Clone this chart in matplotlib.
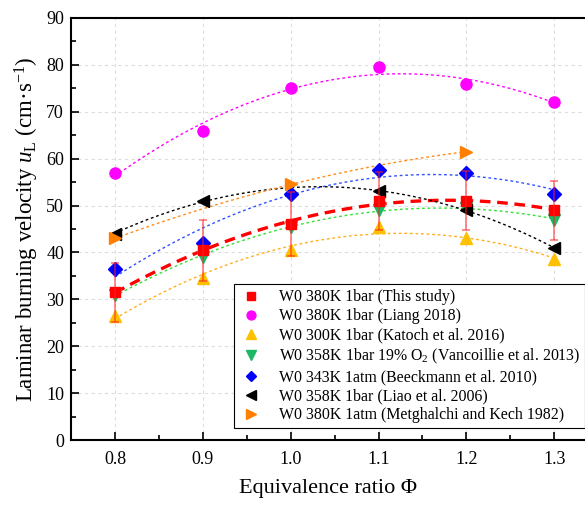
import numpy as np
import matplotlib
matplotlib.use("Agg")
import matplotlib.pyplot as plt
from matplotlib.ticker import MultipleLocator

plt.rcParams['font.family'] = ['Liberation Serif', 'DejaVu Serif']
plt.rcParams['mathtext.fontset'] = 'custom'
plt.rcParams['mathtext.rm'] = 'Liberation Serif'
plt.rcParams['mathtext.it'] = 'Liberation Serif:italic'

phi = [0.8, 0.9, 1.0, 1.1, 1.2, 1.3]

this_study = [31.5, 40.5, 46.0, 51.0, 51.0, 49.0]
this_err = [6.3, 6.5, 6.8, 6.2, 6.3, 6.3]
liang = [57.0, 66.0, 75.0, 79.5, 76.0, 72.0]
katoch = [26.5, 34.5, 40.5, 45.5, 43.0, 38.5]
vanco = [31.0, 39.0, 45.5, 49.0, 49.5, 47.0]
beeck = [36.5, 42.0, 52.5, 57.5, 57.0, 52.5]
liao_phi = [0.8, 0.9, 1.1, 1.2, 1.3]
liao = [44.0, 51.0, 53.0, 49.0, 41.0]
metg_phi = [0.8, 1.0, 1.2]
metg = [43.0, 54.5, 61.5]

labels = [
    'W0 380K 1bar (This study)',
    'W0 380K 1bar (Liang 2018)',
    'W0 300K 1bar (Katoch et al. 2016)',
    'W0 358K 1bar 19% O$_2$ (Vancoillie et al. 2013)',
    'W0 343K 1atm (Beeckmann et al. 2010)',
    'W0 358K 1bar (Liao et al. 2006)',
    'W0 380K 1atm (Metghalchi and Kech 1982)',
]

fig = plt.figure(figsize=(5.85, 5.05), dpi=100)
ax = fig.add_axes([0.1214, 0.1287, 0.8786, 0.8357])

def fit(x, y, color, lw=1.0, dash=(2, 2)):
    c = np.polyfit(x, y, 2)
    xx = np.linspace(min(x), max(x), 200)
    ax.plot(xx, np.polyval(c, xx), color=color, lw=lw, dashes=dash, zorder=2)

series = [
    (phi, liang, '#FF00FF', 'o', 8, '#FF00FF'),
    (phi, katoch, '#FFC000', '^', 9, '#FFB020'),
    (phi, vanco, '#1CB864', 'v', 9, '#33E033'),
    (phi, beeck, '#0000FF', 'D', 7, '#3050FF'),
    (liao_phi, liao, '#000000', '<', 9, '#000000'),
    (metg_phi, metg, '#FF8000', '>', 9, '#FF8C1A'),
]

# this study
fit(phi, this_study, '#FF0000', lw=2.4, dash=(3.2, 2.0))
handles = []
h = ax.plot(phi, this_study, ls='none', marker='s', ms=7, color='#FF0000',
            zorder=5, label=labels[0])[0]
handles.append(h)

for (x, y, mc, mk, ms, lc), lab in zip(series, labels[1:]):
    fit(x, y, lc)
    h = ax.plot(x, y, ls='none', marker=mk, ms=ms, color=mc, mec=mc,
                zorder=4, label=lab)[0]
    handles.append(h)

ax.errorbar(phi, this_study, yerr=this_err, fmt='none', ecolor='#FF2020',
            elinewidth=1.2, capsize=2.8, capthick=1.2, alpha=0.6, zorder=6)

ax.set_xlim(0.75, 1.335)
ax.set_ylim(0, 90)
ax.xaxis.set_minor_locator(MultipleLocator(0.05))
ax.yaxis.set_major_locator(MultipleLocator(10))
ax.yaxis.set_minor_locator(MultipleLocator(5))
ax.set_xticks(phi)
ax.set_xticklabels(['0.8', '0.9', '1.0', '1.1', '1.2', '1.3'])
ax.tick_params(which='major', direction='in', length=6, width=1.2, labelsize=13, pad=8)
ax.tick_params(which='minor', direction='in', length=3.5, width=1.2)
ax.tick_params(axis='y', pad=5)
ax.grid(True, which='major', color='#dddddd', ls=(0, (3, 3)), lw=0.8)
ax.set_axisbelow(True)
for s in ['left', 'bottom', 'top']:
    ax.spines[s].set_linewidth(1.5)
ax.spines['right'].set_visible(False)

ax.set_xlabel('Equivalence ratio Φ', fontsize=16, labelpad=8)
ax.set_ylabel('Laminar burning velocity $u_\\mathrm{L}$ (cm·s$^{-1}$)', fontsize=16.5, labelpad=4)

leg = ax.legend(handles=handles, loc='lower right', bbox_to_anchor=(1.0, 0.028),
                fontsize=11.4, frameon=True, fancybox=False, edgecolor='black',
                framealpha=1, borderpad=0.3, labelspacing=0.2, handletextpad=1.0,
                handlelength=1.5, borderaxespad=0, markerscale=0.8)
leg.get_frame().set_linewidth(0.8)

fig.savefig('out.png', dpi=100)
